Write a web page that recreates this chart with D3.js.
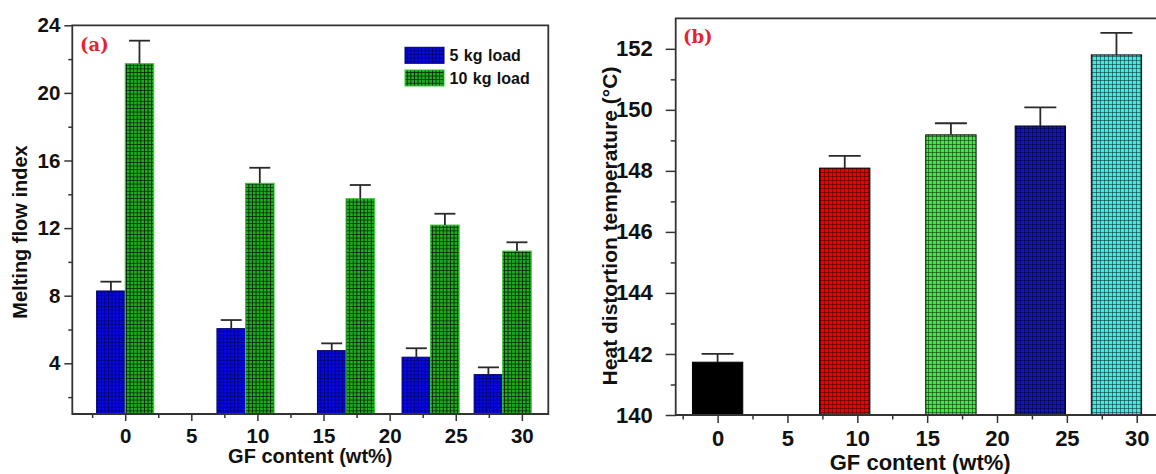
<!DOCTYPE html>
<html><head><meta charset="utf-8">
<script src="https://cdn.jsdelivr.net/npm/d3@7"></script>
<style>
html,body{margin:0;padding:0;background:#fff;}
svg{display:block;font-family:"Liberation Sans",Arial,sans-serif;}
</style></head>
<body>
<svg id="chart" width="1156" height="474"></svg>
<script>
// ---------- data ----------
const gfTicks = [0, 5, 10, 15, 20, 25, 30];
const gfMinor = [-2.5, 2.5, 7.5, 12.5, 17.5, 22.5, 27.5, 32.5];
// position on the GF axis where each sample's bar(s) are drawn
const samplePos = [0, 9.1, 16.7, 23.1, 28.55];
// panel (a): melt flow index
const mfi5 = [8.28, 6.05, 4.75, 4.36, 3.33];
const mfi5Err = [0.55, 0.51, 0.43, 0.53, 0.43];
const mfi10 = [21.73, 14.65, 13.74, 12.18, 10.64];
const mfi10Err = [1.36, 0.92, 0.81, 0.67, 0.52];
const mfiTicks = [4, 8, 12, 16, 20, 24];
const mfiMinor = [2, 6, 10, 14, 18, 22];
const seriesA = ["5 kg load", "10 kg load"];
// panel (b): heat distortion temperature
const hdt = [141.73, 148.09, 149.18, 149.47, 151.8];
const hdtErr = [0.27, 0.40, 0.38, 0.61, 0.72];
const hdtTicks = [140, 142, 144, 146, 148, 150, 152];
const hdtMinor = [141, 143, 145, 147, 149, 151];

// ---------- setup ----------
const svg = d3.select("#chart");
const defs = svg.append("defs");
function gridPattern(id, bg, line, size, lw) {
  const p = defs.append("pattern").attr("id", id)
    .attr("patternUnits", "userSpaceOnUse")
    .attr("width", size).attr("height", size);
  p.append("rect").attr("width", size).attr("height", size).attr("fill", bg);
  p.append("path").attr("d", `M0,0H${size}M0,0V${size}`)
    .attr("stroke", line).attr("stroke-width", lw).attr("fill", "none");
  return `url(#${id})`;
}
const patBlueA = gridPattern("pBlueA", "#0808e0", "#000040", 3.6, 1.1);
const patGreenA = gridPattern("pGreenA", "#1fae1f", "#001400", 3.6, 1.5);
const patsB = [
  "#000",
  gridPattern("pRed", "#f20000", "#2a0000", 4, 1),
  gridPattern("pGreenB", "#3fe83f", "#002000", 4, 1),
  gridPattern("pBlueB", "#1515b8", "#000030", 4, 1),
  gridPattern("pCyan", "#40eade", "#002020", 4, 1)
];

const axisColor = "#333";
const textColor = "#111";
function styleAxis(g, fs) {
  g.select(".domain").remove();
  g.selectAll(".tick line").attr("stroke", axisColor).attr("stroke-width", 1.5);
  g.selectAll(".tick text").attr("fill", textColor)
    .style("font-size", fs + "px").style("font-weight", "bold")
    .style("font-family", "'Liberation Sans',Arial,sans-serif");
}

// ================= Panel (a) =================
const A = {left: 72.3, right: 548.3, top: 25.3, bottom: 414};
const xA = d3.scaleLinear().domain([-4, 32]).range([A.left, A.right]);
const yA = d3.scaleLinear().domain([1, 24]).range([A.bottom, A.top]);
const gA = svg.append("g");
const barWA = 2.16; // GF units

gA.selectAll("rect.b5").data(mfi5).join("rect")
  .attr("x", (d, i) => xA(samplePos[i] - barWA))
  .attr("width", xA(barWA) - xA(0))
  .attr("y", d => yA(d))
  .attr("height", d => yA.range()[0] - yA(d))
  .attr("fill", patBlueA).attr("stroke", "#00006a").attr("stroke-width", 1);
gA.selectAll("rect.b10").data(mfi10).join("rect")
  .attr("x", (d, i) => xA(samplePos[i]))
  .attr("width", xA(barWA) - xA(0))
  .attr("y", d => yA(d))
  .attr("height", d => yA.range()[0] - yA(d))
  .attr("fill", patGreenA).attr("stroke", "#36c836").attr("stroke-width", 1);

function errBars(g, vals, errs, cx, y, capW) {
  vals.forEach((v, i) => {
    const x = cx(i);
    g.append("line").attr("x1", x).attr("x2", x)
      .attr("y1", y(v)).attr("y2", y(v + errs[i]))
      .attr("stroke", "#2a2a2a").attr("stroke-width", 1.8);
    g.append("line").attr("x1", x - capW / 2).attr("x2", x + capW / 2)
      .attr("y1", y(v + errs[i])).attr("y2", y(v + errs[i]))
      .attr("stroke", "#2a2a2a").attr("stroke-width", 1.8);
  });
}
errBars(gA, mfi5, mfi5Err, i => xA(samplePos[i] - barWA / 2), yA, 21);
errBars(gA, mfi10, mfi10Err, i => xA(samplePos[i] + barWA / 2), yA, 21);

const axA_x = gA.append("g").attr("transform", `translate(0,${A.bottom})`)
  .call(d3.axisBottom(xA).tickValues(gfTicks).tickFormat(d3.format("d"))
    .tickSizeInner(7).tickSizeOuter(0).tickPadding(7));
styleAxis(axA_x, 20.5);
const axA_xm = gA.append("g").attr("transform", `translate(0,${A.bottom})`)
  .call(d3.axisBottom(xA).tickValues(gfMinor.filter(v => v > -4 && v < 32))
    .tickFormat("").tickSizeInner(4).tickSizeOuter(0));
styleAxis(axA_xm, 10);
const axA_y = gA.append("g").attr("transform", `translate(${A.left},0)`)
  .call(d3.axisLeft(yA).tickValues(mfiTicks).tickFormat(d3.format("d"))
    .tickSizeInner(8).tickSizeOuter(0).tickPadding(4));
styleAxis(axA_y, 20.5);
const axA_ym = gA.append("g").attr("transform", `translate(${A.left},0)`)
  .call(d3.axisLeft(yA).tickValues(mfiMinor).tickFormat("")
    .tickSizeInner(4).tickSizeOuter(0));
styleAxis(axA_ym, 10);
gA.append("path")
  .attr("d", `M${A.left},${A.top}V${A.bottom}H${A.right}V${A.top}Z`)
  .attr("fill", "none").attr("stroke", axisColor).attr("stroke-width", 1.8);

gA.append("text").attr("x", 80).attr("y", 51)
  .style("font-family", "'DejaVu Serif',serif").style("font-weight", "bold")
  .style("font-size", "18px").attr("fill", "#e2252f").text("(a)");
gA.append("text").attr("transform", `translate(27,232) rotate(-90)`)
  .attr("text-anchor", "middle").style("font-weight", "bold").style("font-size", "20px")
  .attr("fill", textColor).text("Melting flow index");
gA.append("text").attr("x", (A.left + A.right) / 2).attr("y", 463)
  .attr("text-anchor", "middle").style("font-weight", "bold").style("font-size", "20px")
  .attr("fill", textColor).text("GF content (wt%)");

const legA = gA.append("g");
[patBlueA, patGreenA].forEach((p, i) => {
  legA.append("rect").attr("x", 405).attr("y", 47.3 + i * 22.7)
    .attr("width", 39).attr("height", 16)
    .attr("fill", p).attr("stroke", i === 0 ? "#00006a" : "#36c836").attr("stroke-width", 1);
  legA.append("text").attr("x", 449.5).attr("y", 61 + i * 22.5)
    .style("font-weight", "bold").style("font-size", "16px").style("word-spacing", "1px")
    .attr("fill", textColor).text(seriesA[i]);
});

// ================= Panel (b) =================
const B = {left: 675.7, top: 18.3, bottom: 415};
const xB = d3.scaleLinear().domain([-3, 32]).range([B.left, B.left + 35 * 13.97]);
const yB = d3.scaleLinear().domain([140, 153]).range([B.bottom, B.top]);
const gB = svg.append("g");
const barWB = 3.6;

gB.selectAll("rect.h").data(hdt).join("rect")
  .attr("x", (d, i) => xB(samplePos[i] - barWB / 2))
  .attr("width", xB(barWB) - xB(0))
  .attr("y", d => yB(d))
  .attr("height", d => yB.range()[0] - yB(d))
  .attr("fill", (d, i) => patsB[i]).attr("stroke", "#000").attr("stroke-width", 1);
errBars(gB, hdt, hdtErr, i => xB(samplePos[i]), yB, 32);

const axB_x = gB.append("g").attr("transform", `translate(0,${B.bottom})`)
  .call(d3.axisBottom(xB).tickValues(gfTicks).tickFormat(d3.format("d"))
    .tickSizeInner(8).tickSizeOuter(0).tickPadding(7));
styleAxis(axB_x, 22);
const axB_xm = gB.append("g").attr("transform", `translate(0,${B.bottom})`)
  .call(d3.axisBottom(xB).tickValues(gfMinor.filter(v => v > -3)).tickFormat("")
    .tickSizeInner(4.5).tickSizeOuter(0));
styleAxis(axB_xm, 10);
const axB_y = gB.append("g").attr("transform", `translate(${B.left},0)`)
  .call(d3.axisLeft(yB).tickValues(hdtTicks).tickFormat(d3.format("d"))
    .tickSizeInner(10).tickSizeOuter(0).tickPadding(13));
styleAxis(axB_y, 22);
const axB_ym = gB.append("g").attr("transform", `translate(${B.left},0)`)
  .call(d3.axisLeft(yB).tickValues(hdtMinor).tickFormat("")
    .tickSizeInner(5).tickSizeOuter(0));
styleAxis(axB_ym, 10);
gB.append("path")
  .attr("d", `M${xB.range()[1]},${B.top}H${B.left}V${B.bottom}H${xB.range()[1]}`)
  .attr("fill", "none").attr("stroke", axisColor).attr("stroke-width", 1.8);

gB.append("text").attr("x", 683).attr("y", 43)
  .style("font-family", "'DejaVu Serif',serif").style("font-weight", "bold")
  .style("font-size", "18px").attr("fill", "#e2252f").text("(b)");
gB.append("text").attr("transform", `translate(617,226) rotate(-90)`)
  .attr("text-anchor", "middle").style("font-weight", "bold").style("font-size", "21px")
  .attr("fill", textColor).text("Heat distortion temperature (°C)");
gB.append("text").attr("x", (xB.range()[0] + xB.range()[1]) / 2).attr("y", 470)
  .attr("text-anchor", "middle").style("font-weight", "bold").style("font-size", "22px")
  .attr("fill", textColor).text("GF content (wt%)");
</script>
</body></html>
